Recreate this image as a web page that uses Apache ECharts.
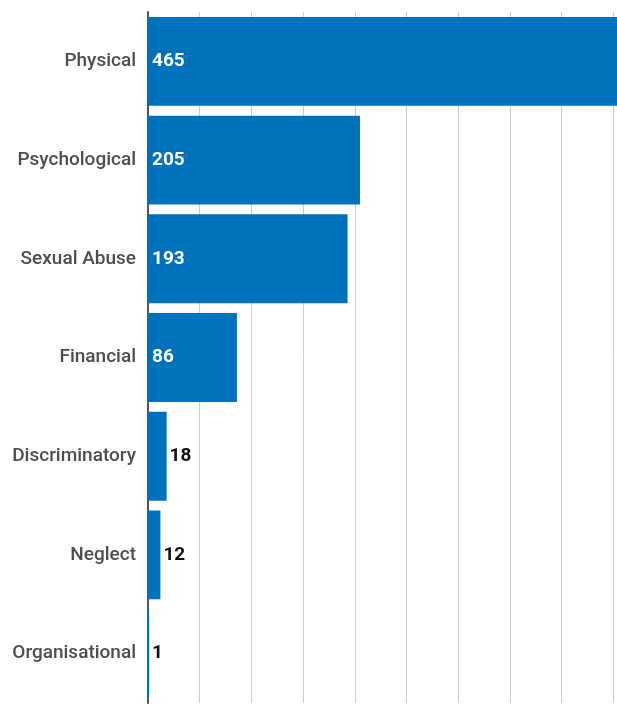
<!DOCTYPE html>
<html>
<head>
<meta charset="utf-8">
<script src="https://cdn.jsdelivr.net/npm/echarts@6/dist/echarts.min.js"></script>
<style>
  html, body { margin: 0; padding: 0; background: #fff; }
  #main { width: 617px; height: 706px; }
</style>
</head>
<body>
<div id="main"></div>
<script>
let categories = ['Physical', 'Psychological', 'Sexual Abuse', 'Financial', 'Discriminatory', 'Neglect', 'Organisational'];
let counts = [465, 205, 193, 86, 18, 12, 1];
// values small enough that the label goes outside the bar
let insideLimit = 50;

let myChart = echarts.init(document.getElementById('main'));

let option = {
    animation: false,
    grid: {
        left: 148,
        width: 517,
        top: 12,
        bottom: 3,
        containLabel: false,
        outerBoundsMode: 'none'
    },
    xAxis: {
        type: 'value',
        min: 0,
        max: 500,
        interval: 50,
        axisLabel: { show: false },
        axisLine: { show: false },
        axisTick: { show: false },
        splitLine: {
            lineStyle: { color: '#cccccc', width: 1 }
        }
    },
    yAxis: {
        type: 'category',
        inverse: true,
        data: categories,
        axisTick: { show: false },
        axisLine: {
            lineStyle: { color: '#555555', width: 2 }
        },
        axisLabel: {
            margin: 12,
            color: '#4d4d4d',
            fontFamily: 'Roboto',
            fontWeight: 500,
            fontSize: 19,
            padding: [3, 0, 0, 0]
        }
    },
    series: [
        {
            type: 'bar',
            barCategoryGap: '10%',
            itemStyle: { color: '#0072bc' },
            data: counts.map(function (v) {
                let inside = v > insideLimit;
                return {
                    value: v,
                    label: {
                        show: true,
                        position: inside ? 'insideLeft' : 'right',
                        distance: inside ? 4 : 3,
                        color: inside ? '#ffffff' : '#111111',
                        fontFamily: 'Roboto',
                        fontWeight: 'bold',
                        fontSize: 19
                    }
                };
            })
        }
    ]
};

myChart.setOption(option);
</script>
</body>
</html>
